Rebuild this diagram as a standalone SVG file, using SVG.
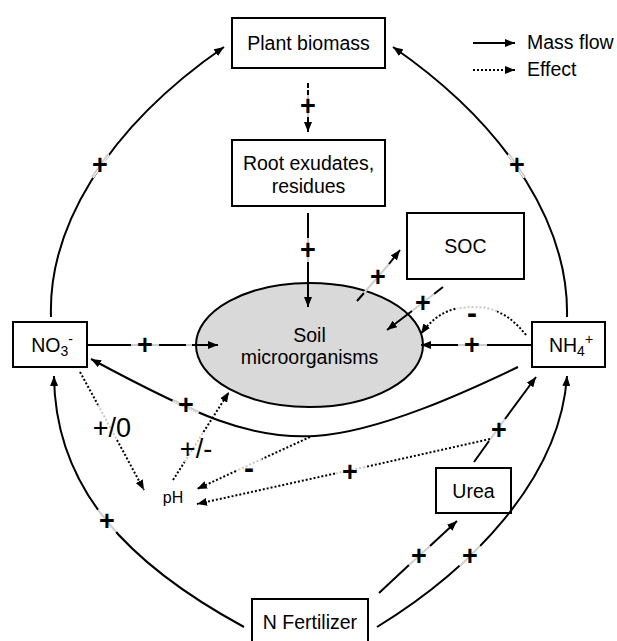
<svg xmlns="http://www.w3.org/2000/svg" width="617" height="641" viewBox="0 0 617 641">
<style>
text{font-family:"Liberation Sans",Arial,sans-serif;fill:#000}
.lbl{font-size:19.5px;text-anchor:middle}
.sgn{font-size:27px;font-weight:bold;text-anchor:middle;dominant-baseline:central}
.big{font-size:27px;text-anchor:middle;dominant-baseline:central}
.box{fill:#fff;stroke:#000;stroke-width:2}
.ln{fill:none;stroke:#000;stroke-width:2}
.dot{fill:none;stroke:#000;stroke-width:2;stroke-dasharray:2 2}
.gr{fill:none;stroke:#cfcfcf;stroke-width:2}
.grd{fill:none;stroke:#c8c8c8;stroke-width:2;stroke-dasharray:2 2}
.wh{fill:none;stroke:#fff;stroke-width:4}
</style>
<defs>
<marker id="ah" viewBox="0 0 10 8" refX="10" refY="4" markerWidth="10" markerHeight="8" markerUnits="userSpaceOnUse" orient="auto"><path d="M0,0 L10,4 L0,8 z" fill="#000"/></marker>
</defs>

<g id="plant-biomass"><rect class="box" x="232" y="18" width="153" height="50"/><text class="lbl" x="308.5" y="50">Plant biomass</text></g>
<g id="root-exudates"><rect class="box" x="232" y="140" width="153" height="66"/><text class="lbl" x="308.5" y="170">Root exudates,</text><text class="lbl" x="308.5" y="193">residues</text></g>
<g id="soc"><rect class="box" x="407" y="213" width="117" height="66"/><text class="lbl" x="465.5" y="253">SOC</text></g>
<g id="soil-microorganisms"><ellipse cx="309.5" cy="345" rx="113.5" ry="62" fill="#d9d9d9" stroke="#000" stroke-width="2"/><text class="lbl" x="309.5" y="342">Soil</text><text class="lbl" x="309.5" y="364">microorganisms</text></g>
<g id="no3"><rect class="box" x="13" y="322" width="74" height="45"/><text class="lbl" x="52" y="352">NO<tspan font-size="14" dy="4">3</tspan><tspan font-size="14" dy="-12">-</tspan></text></g>
<g id="nh4"><rect class="box" x="532" y="322" width="73" height="45"/><text class="lbl" x="571" y="352">NH<tspan font-size="14" dy="4">4</tspan><tspan font-size="14" dy="-12">+</tspan></text></g>
<g id="ph"><text x="173" y="503" style="font-size:16px;text-anchor:middle">pH</text></g>
<g id="urea"><rect class="box" x="436" y="468" width="75" height="45"/><text class="lbl" x="473.5" y="498">Urea</text></g>
<g id="n-fertilizer"><rect class="box" x="252" y="599" width="116" height="50"/><text class="lbl" x="310" y="629">N Fertilizer</text></g>
<g id="legend"><text x="527" y="49" style="font-size:19.5px">Mass flow</text><text x="527" y="76" style="font-size:19.5px">Effect</text></g>

<g id="connectors">
<!-- big arcs -->
<path class="ln" d="M51,317 C48,230 104,130 224,47" marker-end="url(#ah)"/>
<path class="ln" d="M567,317 C569,230 513,130 393,47" marker-end="url(#ah)"/>
<path class="ln" d="M244,627 C130,565 55,490 54,376" marker-end="url(#ah)"/>
<path class="ln" d="M377,627 C470,570 560,480 567,376" marker-end="url(#ah)"/>
<path class="ln" d="M518,367 C470,390 380,432 315,436 C250,440 195,415 91,359" marker-end="url(#ah)"/>
<line class="wh" x1="92" y1="177" x2="108" y2="154"/><line class="gr" x1="92" y1="177" x2="108" y2="154"/>
<line class="wh" x1="525" y1="177" x2="509" y2="154"/><line class="gr" x1="525" y1="177" x2="509" y2="154"/>
<line class="wh" x1="116" y1="532" x2="98" y2="510"/><line class="gr" x1="116" y1="532" x2="98" y2="510"/>
<line class="wh" x1="460" y1="566" x2="480" y2="546"/><line class="gr" x1="460" y1="566" x2="480" y2="546"/>
<line class="wh" x1="199" y1="412" x2="173" y2="400"/><line class="gr" x1="199" y1="412" x2="173" y2="400"/>

<!-- plant -> root (dashed) -->
<line class="ln" x1="308" y1="83" x2="308" y2="95" stroke-dasharray="5 2"/>
<line class="gr" x1="308" y1="95" x2="308" y2="117"/>
<line class="ln" x1="308" y1="117" x2="308" y2="132" marker-end="url(#ah)"/>
<!-- root -> soil -->
<line class="ln" x1="308" y1="213" x2="308" y2="238"/>
<line class="gr" x1="308" y1="238" x2="308" y2="262"/>
<line class="ln" x1="308" y1="262" x2="308" y2="307" marker-end="url(#ah)"/>
<!-- NO3 -> soil -->
<line class="ln" x1="87" y1="345" x2="131" y2="345"/>
<line class="gr" x1="131" y1="345" x2="159" y2="345"/>
<line class="ln" x1="159" y1="345" x2="186" y2="345"/>
<line class="gr" x1="186" y1="345" x2="192" y2="345"/>
<line class="ln" x1="192" y1="345" x2="218" y2="345" marker-end="url(#ah)"/>
<!-- NH4 -> soil -->
<line class="ln" x1="531" y1="345" x2="487" y2="345"/>
<line class="gr" x1="487" y1="345" x2="458" y2="345"/>
<line class="ln" x1="458" y1="345" x2="421" y2="345" marker-end="url(#ah)"/>
<!-- soil -> SOC -->
<line class="ln" x1="357" y1="301" x2="364" y2="293"/>
<line class="gr" x1="364" y1="293" x2="389" y2="264"/>
<line class="ln" x1="389" y1="264" x2="400" y2="250" marker-end="url(#ah)"/>
<!-- SOC -> soil -->
<line class="ln" x1="443" y1="287" x2="434" y2="294"/>
<line class="gr" x1="434" y1="294" x2="412" y2="311"/>
<line class="ln" x1="412" y1="311" x2="387" y2="330" marker-end="url(#ah)"/>
<!-- Urea -> NH4 -->
<line class="ln" x1="474" y1="462" x2="489" y2="441"/>
<line class="gr" x1="489" y1="441" x2="505" y2="419"/>
<line class="ln" x1="505" y1="419" x2="536" y2="377" marker-end="url(#ah)"/>
<!-- N fertilizer -> Urea -->
<line class="ln" x1="379" y1="593" x2="409" y2="565"/>
<line class="gr" x1="409" y1="565" x2="430" y2="546"/>
<line class="ln" x1="430" y1="546" x2="457" y2="521" marker-end="url(#ah)"/>

<!-- dotted effects -->
<path class="dot" d="M526,335 C510,315 495,307 470,307 C448,307 432,318 421,334" marker-end="url(#ah)"/>
<path class="wh" d="M497,311 L485,307.5 L470,307 L457,308.5"/>
<path class="grd" d="M497,311 L485,307.5 L470,307 L457,308.5"/>
<line class="dot" x1="80" y1="372" x2="98" y2="405"/>
<line class="grd" x1="98" y1="405" x2="117" y2="440"/>
<line class="dot" x1="117" y1="440" x2="144" y2="490" marker-end="url(#ah)"/>
<line class="dot" x1="173" y1="480" x2="184.5" y2="462"/>
<line class="grd" x1="184.5" y1="462" x2="203.5" y2="432"/>
<line class="dot" x1="203.5" y1="432" x2="229" y2="392" marker-end="url(#ah)"/>
<line class="dot" x1="310" y1="437" x2="262" y2="459"/>
<line class="grd" x1="262" y1="459" x2="236" y2="471"/>
<line class="dot" x1="236" y1="471" x2="197" y2="489" marker-end="url(#ah)"/>
<line class="dot" x1="490" y1="439" x2="365" y2="467"/>
<line class="grd" x1="365" y1="467" x2="335" y2="473.5"/>
<line class="dot" x1="335" y1="473.5" x2="197" y2="504" marker-end="url(#ah)"/>

<!-- legend -->
<line class="ln" x1="473" y1="43" x2="515" y2="43" marker-end="url(#ah)"/>
<line class="dot" x1="473" y1="70" x2="515" y2="70" marker-end="url(#ah)"/>

<!-- signs -->
<text class="sgn" x="308" y="106">+</text>
<text class="sgn" x="308" y="250">+</text>
<text class="sgn" x="100" y="165">+</text>
<text class="sgn" x="517" y="165">+</text>
<text class="sgn" x="378" y="277">+</text>
<text class="sgn" x="423" y="303">+</text>
<text class="sgn" x="145" y="345">+</text>
<text class="sgn" x="472" y="345">+</text>
<text class="sgn" x="186" y="405">+</text>
<text class="sgn" x="499" y="430">+</text>
<text class="sgn" x="350" y="472">+</text>
<text class="sgn" x="107" y="521">+</text>
<text class="sgn" x="419" y="556">+</text>
<text class="sgn" x="470" y="556">+</text>
<text class="sgn" x="472" y="312" style="font-size:30px">-</text>
<text class="sgn" x="249" y="467" style="font-size:30px">-</text>
<text class="big" x="112" y="428">+/0</text>
<text class="big" x="196" y="449">+/-</text>
</g>
</svg>
